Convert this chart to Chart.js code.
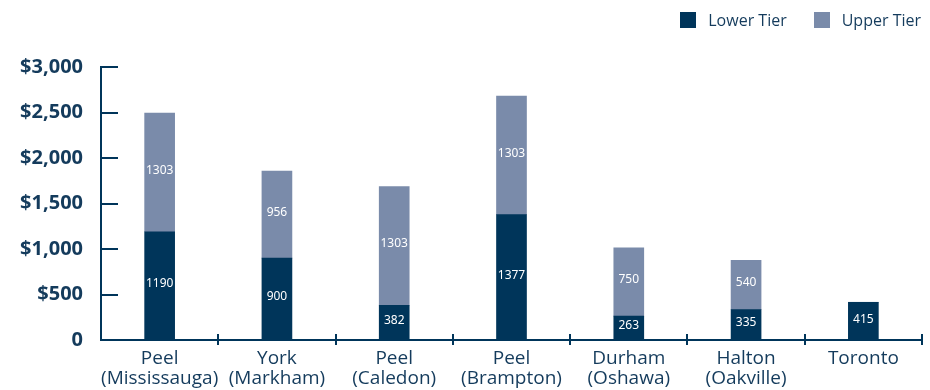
<!DOCTYPE html>
<html>
<head>
<meta charset="utf-8">
<script src="https://cdn.jsdelivr.net/npm/chart.js@4"></script>
<style>
  html, body { margin: 0; padding: 0; background: #fff; }
  #wrap { position: relative; width: 930px; height: 390px; }
  #legend {
    position: absolute; top: 10px; right: 9px;
    display: flex; align-items: center;
    font: 16px "Open Sans", sans-serif; color: #143b5c;
  }
  .legend-item { display: flex; align-items: center; line-height: 20px; }
  .legend-item + .legend-item { margin-left: 27px; }
  .legend-box { width: 16px; height: 16px; margin-right: 12px; }
</style>
</head>
<body>
<div id="wrap">
  <canvas id="tierChart"></canvas>
  <div id="legend"></div>
</div>
<script>
// municipality labels (two lines where there is a region + city)
const regions = [
  ["Peel", "(Mississauga)"],
  ["York", "(Markham)"],
  ["Peel", "(Caledon)"],
  ["Peel", "(Brampton)"],
  ["Durham", "(Oshawa)"],
  ["Halton", "(Oakville)"],
  "Toronto",
];
const lowerTier = [1190, 900, 382, 1377, 263, 335, 415];
const upperTier = [1303, 956, 1303, 1303, 750, 540, 0];
const yTickValues = [0, 500, 1000, 1500, 2000, 2500, 3000];

const navy = "#00355a";
const slate = "#7a8baa";
const textColor = "#143b5c";

const formatDollars = (v) => (v === 0 ? "0" : "$" + v.toLocaleString("en-US"));

// short tick marks: inward on the y axis, crossing the x axis at category edges
const axisTicks = {
  id: "axisTicks",
  afterDraw(chart) {
    const { ctx, chartArea, scales } = chart;
    const xs = scales.x;
    const ys = scales.y;
    ctx.save();
    ctx.strokeStyle = navy;
    ctx.lineWidth = 2;
    ctx.beginPath();
    yTickValues.forEach((v) => {
      if (v === 0) return;
      const y = Math.round(ys.getPixelForValue(v));
      ctx.moveTo(chartArea.left, y);
      ctx.lineTo(chartArea.left + 17, y);
    });
    const step = xs.getPixelForValue(1) - xs.getPixelForValue(0);
    for (let i = 1; i <= regions.length; i++) {
      const x = Math.round(xs.getPixelForValue(i - 1) + step / 2);
      ctx.moveTo(x, chartArea.bottom - 6);
      ctx.lineTo(x, chartArea.bottom + 5);
    }
    ctx.stroke();
    ctx.restore();
  },
};

// value printed in the middle of each bar segment
const segmentValues = {
  id: "segmentValues",
  afterDatasetsDraw(chart) {
    const { ctx } = chart;
    ctx.save();
    ctx.fillStyle = "#ffffff";
    ctx.font = "12px 'Noto Sans'";
    ctx.textAlign = "center";
    ctx.textBaseline = "middle";
    chart.data.datasets.forEach((ds, di) => {
      chart.getDatasetMeta(di).data.forEach((bar, i) => {
        const v = ds.data[i];
        if (!v) return;
        ctx.fillText(String(v), bar.x, (bar.y + bar.base) / 2 - 2);
      });
    });
    ctx.restore();
  },
};

const tierChart = new Chart(document.getElementById("tierChart"), {
  type: "bar",
  data: {
    labels: regions,
    datasets: [
      { label: "Lower Tier", data: lowerTier, backgroundColor: navy },
      { label: "Upper Tier", data: upperTier, backgroundColor: slate },
    ],
  },
  options: {
    responsive: true,
    maintainAspectRatio: false,
    animation: false,
    barThickness: 30,
    layout: { padding: { top: 67, right: 8, left: 0, bottom: 0 } },
    plugins: {
      tooltip: { enabled: false },
      legend: { display: false },
    },
    scales: {
      x: {
        stacked: true,
        grid: { display: false, drawTicks: false },
        border: { display: true, color: navy, width: 2 },
        afterFit: (scale) => { scale.height = 50; },
        ticks: {
          color: textColor,
          padding: 9,
          maxRotation: 0,
          autoSkip: false,
          font: { family: "'Open Sans'", size: 19, lineHeight: 1.05 },
        },
      },
      y: {
        stacked: true,
        min: 0,
        max: 3000,
        grid: { display: false, drawTicks: false },
        border: { display: true, color: navy, width: 2 },
        afterFit: (scale) => { scale.width = 101; },
        afterBuildTicks: (scale) => {
          scale.ticks = yTickValues.map((v) => ({ value: v }));
        },
        ticks: {
          color: textColor,
          padding: 18,
          callback: (v) => formatDollars(v),
          font: { family: "'Open Sans'", size: 20, weight: "bold" },
        },
      },
    },
  },
  plugins: [axisTicks, segmentValues],
});

// legend built from the datasets
document.getElementById("legend").innerHTML = tierChart.data.datasets
  .map(
    (ds) => `<div class="legend-item"><span class="legend-box" style="background:${ds.backgroundColor}"></span>${ds.label}</div>`
  )
  .join("");
</script>
</body>
</html>
